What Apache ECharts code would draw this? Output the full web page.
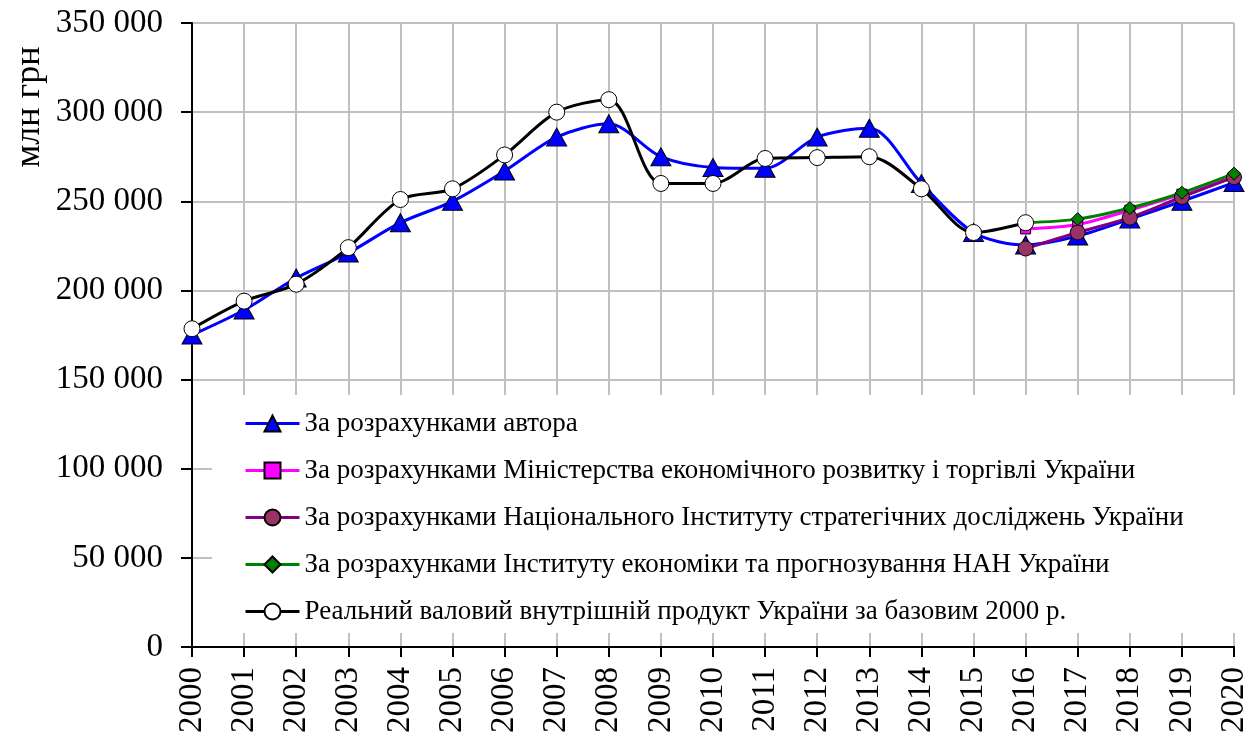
<!DOCTYPE html>
<html>
<head>
<meta charset="utf-8">
<script src="https://cdn.jsdelivr.net/npm/echarts@6/dist/echarts.min.js"></script>
<style>
    html, body { margin: 0; padding: 0; background: #fff; }
    #chart { width: 1259px; height: 742px; }
</style>
</head>
<body>
<div id="chart"></div>
<script>
var years = ['2000', '2001', '2002', '2003', '2004', '2005', '2006', '2007', '2008', '2009', '2010',
    '2011', '2012', '2013', '2014', '2015', '2016', '2017', '2018', '2019', '2020'];

// За розрахунками автора
var authorData = [175000, 189000, 207000, 221000, 238000, 250000, 267000, 286000, 293500, 275000, 269000,
    268500, 286000, 291000, 260000, 232500, 225500, 230500, 240000, 250000, 260500];

// Міністерство економічного розвитку і торгівлі
var ministryData = [null, null, null, null, null, null, null, null, null, null, null,
    null, null, null, null, null, 234500, 237000, 245000, 254000, 263500];

// Національний інститут стратегічних досліджень
var nisdData = [null, null, null, null, null, null, null, null, null, null, null,
    null, null, null, null, null, 223500, 232500, 240800, 252400, 263500];

// Інститут економіки та прогнозування НАН
var ienData = [null, null, null, null, null, null, null, null, null, null, null,
    null, null, null, null, null, 238000, 240000, 246200, 254800, 265500];

// Реальний ВВП за базовим 2000 р.
var realData = [178500, 194000, 203500, 224000, 251000, 257000, 276000, 300000, 307000, 260000, 260000,
    274000, 274500, 275000, 257000, 232500, 238000, null, null, null, null];

var seriesNames = [
    'За розрахунками автора',
    'За розрахунками Міністерства економічного розвитку і торгівлі України',
    'За розрахунками Національного Інституту стратегічних досліджень України',
    'За розрахунками Інституту економіки та прогнозування НАН України',
    'Реальний валовий внутрішній продукт України за базовим 2000 р.'
];

var font = 'Liberation Serif';

var chart = echarts.init(document.getElementById('chart'));

function makeSeries(name, data, lineColor, symbol, size, fill) {
    return {
        name: name,
        type: 'line',
        data: data,
        smooth: 0.3,
        symbol: symbol,
        symbolSize: size,
        showAllSymbol: true,
        lineStyle: { color: lineColor, width: 3 },
        itemStyle: { color: fill, borderColor: '#000', borderWidth: 1 },
        emphasis: { disabled: true }
    };
}

var option = {
    animation: false,
    grid: { left: 192, right: 25, top: 23, bottom: 95 },
    legend: {
        orient: 'vertical',
        left: 212,
        top: 395,
        padding: [15, 65, 8, 32],
        itemWidth: 54,
        itemHeight: 20,
        itemGap: 20,
        backgroundColor: '#fff',
        lineStyle: { width: 3 },
        textStyle: { fontFamily: font, fontSize: 27, color: '#000' },
        data: seriesNames
    },
    xAxis: {
        type: 'category',
        data: years,
        boundaryGap: false,
        axisLine: { lineStyle: { color: '#000', width: 2 } },
        axisTick: { length: 10, lineStyle: { color: '#000', width: 2 } },
        splitLine: { show: true, lineStyle: { color: '#c0c0c0', width: 2 } },
        axisLabel: { rotate: 90, margin: 20, fontFamily: font, fontSize: 33, color: '#000' }
    },
    yAxis: {
        type: 'value',
        min: 0,
        max: 350000,
        interval: 50000,
        axisLine: { show: true, lineStyle: { color: '#000', width: 2 } },
        axisTick: { show: true, length: 11, lineStyle: { color: '#000', width: 2 } },
        splitLine: { lineStyle: { color: '#c0c0c0', width: 2 } },
        axisLabel: {
            margin: 29,
            fontFamily: font,
            fontSize: 33,
            color: '#000',
            formatter: function (v) {
                return String(v).replace(/\B(?=(\d{3})+(?!\d))/g, ' ');
            }
        }
    },
    graphic: [{
        type: 'text',
        x: 30,
        y: 107,
        rotation: Math.PI / 2,
        style: {
            text: 'млн грн',
            fontFamily: font,
            fontSize: 36,
            fill: '#000',
            textAlign: 'center',
            textVerticalAlign: 'middle'
        }
    }],
    series: [
        makeSeries(seriesNames[0], authorData, '#0000ff', 'triangle', [20, 18], '#0000ff'),
        makeSeries(seriesNames[1], ministryData, '#ff00ff', 'rect', 10, '#ff00ff'),
        makeSeries(seriesNames[2], nisdData, '#800080', 'circle', 15, '#993366'),
        makeSeries(seriesNames[3], ienData, '#008000', 'diamond', 13, '#008000'),
        makeSeries(seriesNames[4], realData, '#000000', 'circle', 16, '#ffffff')
    ]
};

chart.setOption(option);
</script>
</body>
</html>
